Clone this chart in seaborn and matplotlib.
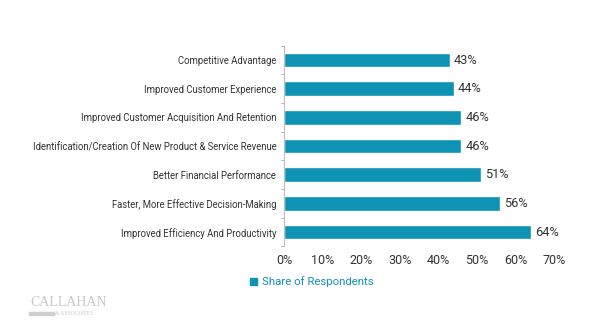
import matplotlib
matplotlib.use("Agg")
import matplotlib.pyplot as plt
import seaborn as sns
import pandas as pd
from matplotlib.patches import Patch

categories = [
    "Competitive Advantage",
    "Improved Customer Experience",
    "Improved Customer Acquisition And Retention",
    "Identification/Creation Of New Product & Service Revenue",
    "Better Financial Performance",
    "Faster, More Effective Decision-Making",
    "Improved Efficiency And Productivity",
]
values = [43, 44, 46, 46, 51, 56, 64]
x_ticks = [0, 10, 20, 30, 40, 50, 60, 70]
series_name = "Share of Respondents"

color = "#0E93B4"
sns.set_theme(style="white")
plt.rcParams["font.family"] = ["Roboto", "DejaVu Sans"]

df = pd.DataFrame({"cat": categories, "val": values})

fig = plt.figure(figsize=(6, 3.25), dpi=100)
ax = fig.add_axes([284 / 600, 1 - 246.4 / 325, 270 / 600, 200.7 / 325])
sns.barplot(data=df, y="cat", x="val", color=color, width=0.51, ax=ax,
            saturation=1, orient="h")
ax.set_xlim(0, 70)
ax.set_ylim(len(categories) - 0.5, -0.5)
ax.set_xticks(x_ticks)
ax.set_xticklabels([f"{t}%" for t in x_ticks], fontsize=9, color="#333333")
ax.set_yticks(range(len(categories)))
ax.set_yticklabels(categories, fontsize=6.85, color="#333333")
ax.tick_params(axis="y", length=0, pad=5.5)
ax.tick_params(axis="x", length=0, pad=5.5)
for i in range(len(categories) + 1):
    ax.plot([-0.9, 0], [i - 0.5, i - 0.5], color="#bfbfbf", lw=0.8, clip_on=False)
ax.set_xlabel("")
ax.set_ylabel("")
for s in ["top", "right", "bottom"]:
    ax.spines[s].set_visible(False)
ax.spines["left"].set_color("#bfbfbf")
ax.spines["left"].set_linewidth(0.8)

for i, v in enumerate(values):
    ax.text(v + 1.0, i, f"{v}%", va="center", ha="left", fontsize=9.2, color="#333333")

fig.legend(handles=[Patch(color=color)], labels=[series_name], loc="center",
           bbox_to_anchor=(312 / 600, 1 - 282 / 325), frameon=False,
           fontsize=8.2, handlelength=0.6, handleheight=0.6, handletextpad=0.4,
           labelcolor=color)

fig.text(30 / 600, 1 - 302 / 325, "CALLAHAN", fontsize=10, color="#c8c8c8",
         family="Liberation Serif", va="center")
fig.patches.append(plt.Rectangle((29 / 600, 1 - 315 / 325), 25 / 600, 3 / 325,
                                 transform=fig.transFigure, color="#d0d0d0"))
fig.text(55 / 600, 1 - 313.5 / 325, "& ASSOCIATES", fontsize=4, color="#c8c8c8",
         family="Liberation Serif", va="center")

fig.savefig("out.png", dpi=100)
